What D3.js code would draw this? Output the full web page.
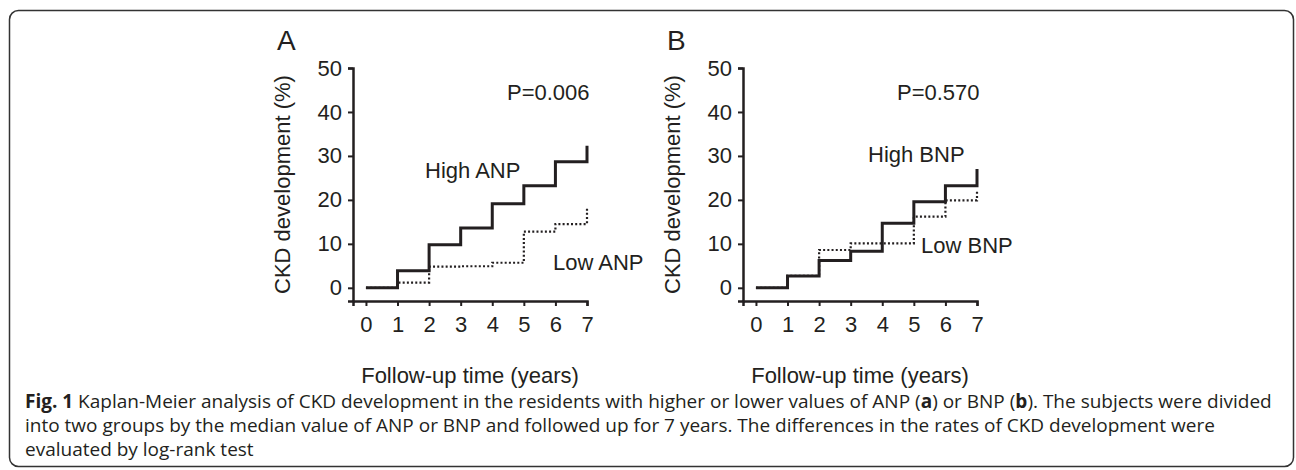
<!DOCTYPE html>
<html>
<head>
<meta charset="utf-8">
<script src="https://cdn.jsdelivr.net/npm/d3@7"></script>
<style>
  body { margin: 0; background: #fff; }
  svg { display: block; }
</style>
</head>
<body>
<div id="vis-holder"></div>
<script>
// Chart data
const years = [0, 1, 2, 3, 4, 5, 6, 7];
const yTicks = [0, 10, 20, 30, 40, 50];

// Panel A: ANP
const highANP = [0, 3.9, 9.8, 13.6, 19.1, 23.2, 28.7, 32.3];
const lowANP = [0, 1.2, 4.8, 4.9, 5.7, 12.8, 14.5, 18.2];

// Panel B: BNP
const highBNP = [0, 2.7, 6.2, 8.3, 14.7, 19.6, 23.2, 27.0];
const lowBNP = [0, 2.7, 8.6, 10.1, 10.1, 16.2, 19.9, 22.3];

const panels = [
  { letter: "A", high: highANP, low: lowANP, p: "P=0.006", highLabel: "High ANP", lowLabel: "Low ANP" },
  { letter: "B", high: highBNP, low: lowBNP, p: "P=0.570", highLabel: "High BNP", lowLabel: "Low BNP" }
];

const captionLines = [
  [{ t: "Fig. 1", b: true }, { t: " Kaplan-Meier analysis of CKD development in the residents with higher or lower values of ANP (" }, { t: "a", b: true }, { t: ") or BNP (" }, { t: "b", b: true }, { t: "). The subjects were divided" }],
  [{ t: "into two groups by the median value of ANP or BNP and followed up for 7 years. The differences in the rates of CKD development were" }],
  [{ t: "evaluated by log-rank test" }]
];

const width = 1296;
const height = 470;
const ink = "#231f20";
const font = "Arial, 'Liberation Sans', sans-serif";

const svg = d3.select("#vis-holder")
  .append("svg")
  .attr("width", width)
  .attr("height", height);

// Frame around the figure
svg.append("rect")
  .attr("x", 9.5)
  .attr("y", 10.5)
  .attr("width", 1284)
  .attr("height", 456)
  .attr("rx", 9)
  .attr("fill", "none")
  .attr("stroke", "#333")
  .attr("stroke-width", 1.5);

// Layout of each panel (axis origin x)
const axisX = [353, 743];
const plotW = 234;

// label positions, relative to the y axis line
const highPos = [[72, 178], [125, 162]];
const lowPos = [[200, 270], [178, 253]];

panels.forEach((p, i) => {
  const left = axisX[i];
  const g = svg.append("g");

  const x = d3.scaleLinear()
    .domain([-0.41, 7])
    .range([left, left + plotW]);

  const y = d3.scaleLinear()
    .domain([-3, 50])
    .range([301, 68]);

  // x axis
  g.append("g")
    .attr("transform", `translate(0,${y(-3)})`)
    .call(d3.axisBottom(x).tickValues(years).tickSizeOuter(0).tickSize(5).tickPadding(10))
    .call((ax) => ax.select(".domain").attr("stroke", ink).attr("stroke-width", 2.5))
    .call((ax) => ax.selectAll(".tick line").attr("stroke", ink).attr("stroke-width", 2))
    .call((ax) => ax.selectAll("text").attr("font-size", 22).attr("font-family", font).attr("fill", ink));

  // y axis
  g.append("g")
    .attr("transform", `translate(${x(-0.41)},0)`)
    .call(d3.axisLeft(y).tickValues(yTicks).tickSizeOuter(0).tickSize(5).tickPadding(6))
    .call((ax) => ax.select(".domain").attr("stroke", ink).attr("stroke-width", 2.5))
    .call((ax) => ax.selectAll(".tick line").attr("stroke", ink).attr("stroke-width", 2))
    .call((ax) => ax.selectAll("text").attr("font-size", 22).attr("font-family", font).attr("fill", ink));

  // Axis titles
  g.append("text")
    .attr("transform", `translate(${left - 71},${(y(50) + y(-3)) / 2}) rotate(-90)`)
    .attr("text-anchor", "middle")
    .attr("dy", "0.35em")
    .attr("font-size", 22)
    .attr("font-family", font)
    .attr("fill", ink)
    .text("CKD development (%)");

  g.append("text")
    .attr("x", left + plotW / 2)
    .attr("y", 383)
    .attr("text-anchor", "middle")
    .attr("font-size", 22)
    .attr("font-family", font)
    .attr("fill", ink)
    .text("Follow-up time (years)");

  // Panel letter
  g.append("text")
    .attr("x", left - 76)
    .attr("y", 50)
    .attr("font-size", 28)
    .attr("font-family", font)
    .attr("fill", ink)
    .text(p.letter);

  // KM step curves
  const line = d3.line()
    .x((d, j) => x(years[j]))
    .y((d) => y(d))
    .curve(d3.curveStepAfter);

  g.append("path")
    .datum(p.low)
    .attr("d", line)
    .attr("fill", "none")
    .attr("stroke", ink)
    .attr("stroke-width", 2.2)
    .attr("stroke-dasharray", "2,2.2");

  g.append("path")
    .datum(p.high)
    .attr("d", line)
    .attr("fill", "none")
    .attr("stroke", ink)
    .attr("stroke-width", 3);

  // Annotations
  g.append("text")
    .attr("x", left + 154)
    .attr("y", 100)
    .attr("font-size", 22)
    .attr("font-family", font)
    .attr("fill", ink)
    .text(p.p);

  g.append("text")
    .attr("x", left + highPos[i][0])
    .attr("y", highPos[i][1])
    .attr("font-size", 22)
    .attr("font-family", font)
    .attr("fill", ink)
    .text(p.highLabel);

  g.append("text")
    .attr("x", left + lowPos[i][0])
    .attr("y", lowPos[i][1])
    .attr("font-size", 22)
    .attr("font-family", font)
    .attr("fill", ink)
    .text(p.lowLabel);
});

// Caption
const cap = svg.append("g")
  .attr("font-family", "'Open Sans', 'Noto Sans', sans-serif")
  .attr("font-size", 19)
  .attr("fill", ink);

captionLines.forEach((ln, k) => {
  const t = cap.append("text")
    .attr("x", 25)
    .attr("y", 408 + k * 24);
  t.selectAll("tspan")
    .data(ln)
    .enter()
    .append("tspan")
    .attr("font-weight", (d) => d.b ? "bold" : null)
    .text((d) => d.t);
});
</script>
</body>
</html>
